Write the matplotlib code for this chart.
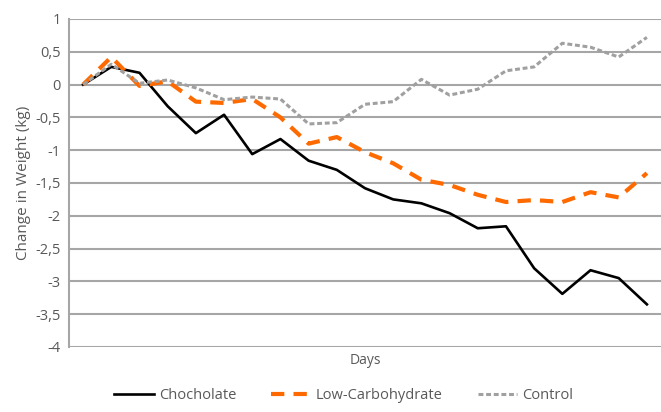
import matplotlib.pyplot as plt
import numpy as np

days = list(range(21))

chocolate = [0, 0.27, 0.18, -0.33, -0.74, -0.46, -1.06, -0.83, -1.16, -1.3, -1.58,
             -1.75, -1.81, -1.96, -2.19, -2.16, -2.8, -3.19, -2.83, -2.95, -3.35]
low_carb = [0, 0.42, -0.02, 0.05, -0.26, -0.28, -0.22, -0.5, -0.9, -0.8, -1.03,
            -1.2, -1.45, -1.53, -1.68, -1.79, -1.76, -1.79, -1.64, -1.72, -1.35]
control = [0, 0.31, 0.02, 0.07, -0.05, -0.23, -0.19, -0.22, -0.6, -0.58, -0.3,
           -0.26, 0.08, -0.16, -0.07, 0.21, 0.27, 0.63, 0.57, 0.42, 0.72]

y_ticks = [1, 0.5, 0, -0.5, -1, -1.5, -2, -2.5, -3, -3.5, -4]

plt.rcParams['font.family'] = ['Open Sans', 'DejaVu Sans']
text_col = '#595959'
grid_col = '#a6a6a6'

fig = plt.figure(figsize=(6.61, 4.12), dpi=100)
ax = fig.add_axes([0.1044, 0.1578, 0.8956, 0.7961])

ax.plot(days, chocolate, color='black', lw=1.9, label='Chocholate', zorder=3)
ax.plot(days, low_carb, color='#ff6a00', lw=3.0, dashes=(3.2, 2.2), label='Low-Carbohydrate', zorder=4)
ax.plot(days, control, color='#a0a0a0', lw=2.2, dashes=(1.6, 0.9), label='Control', zorder=5)

ax.set_xlim(-0.5, 20.5)
ax.set_ylim(-4, 1)
ax.set_yticks(y_ticks)
ax.set_yticklabels([str(v).replace('.', ',') if v != int(v) else str(int(v)) for v in y_ticks])
ax.set_xticks([])
for v in y_ticks:
    ax.axhline(v, color=grid_col, lw=1.5, zorder=1)

for s in ['top', 'right', 'bottom']:
    ax.spines[s].set_visible(False)
ax.spines['left'].set_color(grid_col)
ax.spines['left'].set_linewidth(1.5)
ax.tick_params(axis='y', length=0, pad=6, labelsize=10.5, labelcolor=text_col)

ax.set_ylabel('Change in Weight (kg)', fontsize=11, color=text_col, labelpad=3)
ax.set_xlabel('Days', fontsize=10, color=text_col, labelpad=4)

fig.legend(loc='center', bbox_to_anchor=(0.52, 0.04), ncol=3, frameon=False,
           fontsize=10.5, labelcolor=text_col, handlelength=2.7, handletextpad=0.35,
           columnspacing=2.4)

fig.savefig('out.png', dpi=100)
